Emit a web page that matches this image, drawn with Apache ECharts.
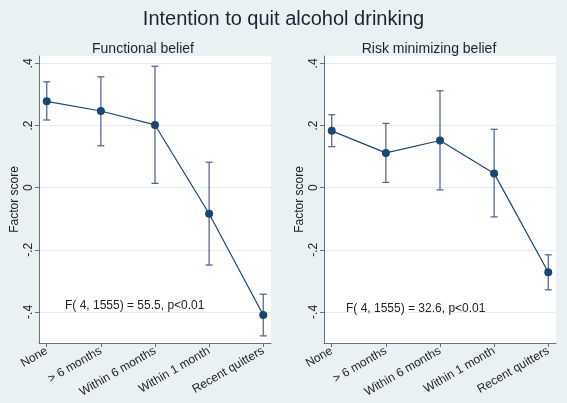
<!DOCTYPE html>
<html>
<head>
<meta charset="utf-8">
<script src="https://cdn.jsdelivr.net/npm/echarts@6/dist/echarts.min.js"></script>
<style>
html,body{margin:0;padding:0;background:#e9f1f3;}
#c{width:567px;height:403px;}
</style>
</head>
<body>
<div id="c"></div>
<script>
// Data
const categories = ['None', '> 6 months', 'Within 6 months', 'Within 1 month', 'Recent quitters'];
const yTicks = [-0.4, -0.2, 0, 0.2, 0.4];
const yTickLabels = ['-.4', '-.2', '0', '.2', '.4'];

const functionalMean  = [0.278, 0.247, 0.202, -0.084, -0.410];
const functionalLower = [0.218, 0.135, 0.014, -0.249, -0.477];
const functionalUpper = [0.341, 0.357, 0.391, 0.082, -0.343];

const riskMean  = [0.183, 0.112, 0.152, 0.046, -0.272];
const riskLower = [0.132, 0.017, -0.007, -0.094, -0.329];
const riskUpper = [0.235, 0.207, 0.312, 0.188, -0.216];

const mainTitle = 'Intention to quit alcohol drinking';
const panelTitles = ['Functional belief', 'Risk minimizing belief'];
const annotations = ['F( 4, 1555) = 55.5, p<0.01', 'F( 4, 1555) = 32.6, p<0.01'];
const yName = 'Factor score';

const FONT = 'Liberation Sans, Arial, sans-serif';
const NAVY = '#1a476f';
const BAR = '#5a6890';
const AXIS = '#66717c';

const chart = echarts.init(document.getElementById('c'), null, {renderer: 'canvas'});

function xAxisCfg(gi) {
  return {
    type: 'value', gridIndex: gi, min: -0.143, max: 4.143,
    axisLine: {show: true, onZero: false, lineStyle: {color: AXIS, width: 1}},
    axisTick: {show: true, length: 4, customValues: [0,1,2,3,4], lineStyle: {color: AXIS}},
    axisLabel: {show: true, customValues: [0,1,2,3,4], rotate: 30, margin: 7,
      fontFamily: FONT, fontSize: 12, color: '#222',
      formatter: v => categories[Math.round(v)]},
    splitLine: {show: false}
  };
}
function yAxisCfg(gi) {
  return {
    type: 'value', gridIndex: gi, min: -0.5, max: 0.424,
    name: yName, nameLocation: 'middle', nameGap: 18, nameRotate: 90,
    nameTextStyle: {fontFamily: FONT, fontSize: 12, color: '#222'},
    axisLine: {show: true, onZero: false, lineStyle: {color: AXIS, width: 1}},
    axisTick: {show: true, length: 4, customValues: yTicks, lineStyle: {color: AXIS}},
    axisLabel: {show: true, customValues: yTicks, rotate: 90, margin: 4,
      fontFamily: FONT, fontSize: 12, color: '#222',
      formatter: v => yTickLabels[yTicks.findIndex(t => Math.abs(t - v) < 1e-6)]},
    splitLine: {show: true, lineStyle: {color: '#e4edf0', width: 1}}
  };
}

function errorSeries(gi, lower, upper) {
  return {
    type: 'custom', xAxisIndex: gi, yAxisIndex: gi, silent: true, z: 2,
    data: lower.map((l, i) => [i, l, upper[i]]),
    renderItem: function (params, api) {
      const x = api.value(0);
      const lo = api.coord([x, api.value(1)]);
      const hi = api.coord([x, api.value(2)]);
      const hw = 3.5;
      const st = {stroke: BAR, lineWidth: 1.3, fill: null};
      return {type: 'group', children: [
        {type: 'line', shape: {x1: lo[0], y1: lo[1], x2: hi[0], y2: hi[1]}, style: st},
        {type: 'line', shape: {x1: lo[0]-hw, y1: lo[1], x2: lo[0]+hw, y2: lo[1]}, style: st},
        {type: 'line', shape: {x1: hi[0]-hw, y1: hi[1], x2: hi[0]+hw, y2: hi[1]}, style: st}
      ]};
    }
  };
}
function meanSeries(gi, mean) {
  return {
    type: 'line', xAxisIndex: gi, yAxisIndex: gi, z: 3, silent: true,
    data: mean.map((m, i) => [i, m]),
    symbol: 'circle', symbolSize: 8,
    itemStyle: {color: NAVY},
    lineStyle: {color: NAVY, width: 1.2},
    animation: false
  };
}

chart.setOption({
  backgroundColor: '#e9f1f3',
  animation: false,
  title: [
    {text: mainTitle, left: 'center', top: 4, textStyle: {fontFamily: FONT, fontSize: 20, fontWeight: 'normal', color: '#1c2433'}},
    {text: panelTitles[0], left: 138, textAlign: 'center', top: 37, textStyle: {fontFamily: FONT, fontSize: 14, fontWeight: 'normal', color: '#1c2433'}},
    {text: panelTitles[1], left: 424, textAlign: 'center', top: 37, textStyle: {fontFamily: FONT, fontSize: 14, fontWeight: 'normal', color: '#1c2433'}},
    {text: annotations[0], left: 60, top: 295, textStyle: {fontFamily: FONT, fontSize: 12, fontWeight: 'normal', color: '#222'}},
    {text: annotations[1], left: 341, top: 298, textStyle: {fontFamily: FONT, fontSize: 12, fontWeight: 'normal', color: '#222'}}
  ],
  grid: [
    {left: 39, right: 296, top: 56, bottom: 60, show: true, backgroundColor: '#ffffff', borderWidth: 0, containLabel: false},
    {left: 324, right: 11, top: 56, bottom: 60, show: true, backgroundColor: '#ffffff', borderWidth: 0, containLabel: false}
  ],
  xAxis: [xAxisCfg(0), xAxisCfg(1)],
  yAxis: [yAxisCfg(0), yAxisCfg(1)],
  series: [
    errorSeries(0, functionalLower, functionalUpper),
    meanSeries(0, functionalMean),
    errorSeries(1, riskLower, riskUpper),
    meanSeries(1, riskMean)
  ]
});
</script>
</body>
</html>
